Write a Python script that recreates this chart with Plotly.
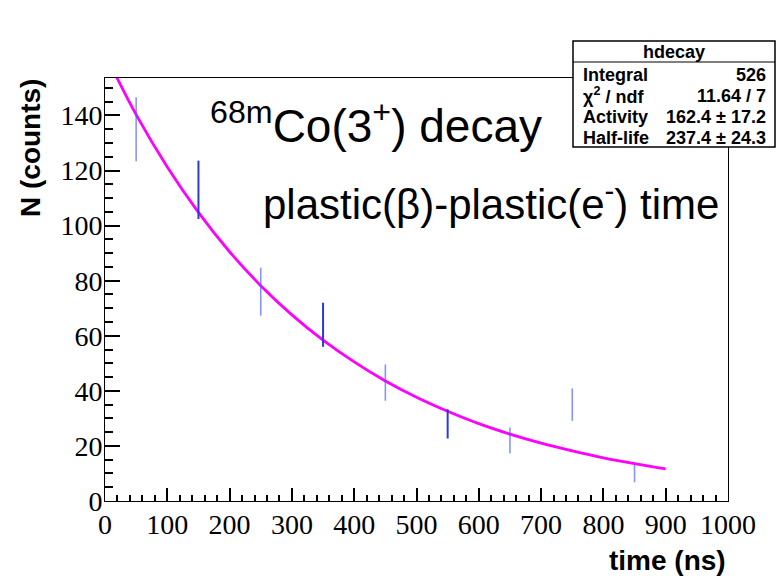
import plotly.graph_objects as go

# ---- data ----
bin_centers = [50, 150, 250, 350, 450, 550, 650, 750, 850]          # time (ns)
counts      = [135, 113, 76, 64, 43, 28, 22, 35, 10]                  # N (counts)
count_errs  = [11.6, 10.6, 8.7, 8.0, 6.6, 5.3, 4.7, 5.9, 3.2]         # sqrt(N)

fit_t = [0, 50, 100, 150, 200, 250, 300, 350, 400, 450, 500, 550, 600,
         650, 700, 750, 800, 850, 900]
fit_n = [162.4, 140.3, 121.3, 104.8, 90.5, 78.2, 67.6, 58.4, 50.5, 43.6,
         37.7, 32.6, 28.1, 24.3, 21.0, 18.2, 15.7, 13.6, 11.7]

stat_labels = ["Integral", "χ<sup>2</sup> / ndf", "Activity", "Half-life"]
stat_values = ["526", "11.64 / 7", "162.4 ± 17.2", "237.4 ± 24.3"]
hist_name = "hdecay"

x_ticks = list(range(0, 1001, 100))
y_ticks = list(range(0, 141, 20))

# split bars into two rendering groups (as they appear in the picture)
dark_idx = [1, 3, 5]
light_idx = [i for i in range(len(bin_centers)) if i not in dark_idx]

fig = go.Figure()

fig.add_trace(go.Scatter(
    x=fit_t, y=fit_n, mode="lines", line=dict(color="#ff00ff", width=2.8, shape="spline"),
    hoverinfo="skip", showlegend=False))

for idx, col, w in [(light_idx, "rgba(70,90,255,0.65)", 1.6), (dark_idx, "#2a3ae0", 2.0)]:
    fig.add_trace(go.Scatter(
        x=[bin_centers[i] for i in idx], y=[counts[i] for i in idx], mode="markers",
        marker=dict(size=1, opacity=0),
        error_y=dict(type="data", array=[count_errs[i] for i in idx], visible=True,
                     color=col, thickness=w, width=0),
        showlegend=False))

PL, PR, PT, PB = 105, 728, 78, 501
def px(xp): return (xp - PL) / (PR - PL)
def py(yp): return (PB - yp) / (PB - PT)

tickfont = dict(family="Liberation Serif", size=28, color="black")
fig.update_xaxes(range=[0, 1000], tickmode="array", tickvals=x_ticks,
                 ticks="inside", ticklen=13, tickwidth=1.5, tickcolor="black",
                 minor=dict(dtick=20, ticks="inside", ticklen=6, tickwidth=1.5, tickcolor="black"),
                 showline=True, linecolor="black", linewidth=1, mirror=True,
                 showgrid=False, zeroline=False, tickfont=tickfont, ticklabelstandoff=-2)
fig.update_yaxes(range=[0, 153.6], tickmode="array", tickvals=y_ticks,
                 ticks="inside", ticklen=15, tickwidth=1.5, tickcolor="black",
                 minor=dict(dtick=5, ticks="inside", ticklen=8, tickwidth=1.5, tickcolor="black"),
                 showline=True, linecolor="black", linewidth=1, mirror=True,
                 showgrid=False, zeroline=False, tickfont=tickfont, ticklabelstandoff=-4)

ann = []
ann.append(dict(text="N (counts)", x=px(30), y=py(77), xref="paper", yref="paper",
                xanchor="center", yanchor="top", textangle=-90, showarrow=False,
                font=dict(family="Liberation Sans", size=28, color="black", weight="bold")))
ann.append(dict(text="time (ns)", x=px(728), y=py(560), xref="paper", yref="paper",
                xanchor="right", yanchor="middle", showarrow=False,
                font=dict(family="Liberation Sans", size=28, color="black", weight="bold")))
ann.append(dict(text="<sup>68m</sup>Co(3<sup>+</sup>) decay", x=px(208), y=py(123),
                xref="paper", yref="paper", xanchor="left", yanchor="middle", showarrow=False,
                font=dict(family="Liberation Sans", size=46, color="black")))
ann.append(dict(text="plastic(β)-plastic(e<sup>-</sup>) time", x=px(261), y=py(201),
                xref="paper", yref="paper", xanchor="left", yanchor="middle", showarrow=False,
                font=dict(family="Liberation Sans", size=42, color="black")))

# stats box
bx0, bx1, by0, by1, bh = 573, 775, 147, 41, 62
shapes = [
    dict(type="rect", xref="paper", yref="paper", x0=px(bx0), x1=px(bx1), y0=py(by0), y1=py(by1),
         fillcolor="white", line=dict(color="black", width=1.5), layer="above"),
    dict(type="line", xref="paper", yref="paper", x0=px(bx0), x1=px(bx1), y0=py(bh), y1=py(bh),
         line=dict(color="black", width=1.2), layer="above"),
]
sfont = dict(family="Liberation Sans", size=18, color="black", weight="bold")
ann.append(dict(text=hist_name, x=px(674), y=py(52), xref="paper", yref="paper",
                xanchor="center", yanchor="middle", showarrow=False, font=sfont))
row_y = [75, 96, 117, 138]
for lab, val, yy in zip(stat_labels, stat_values, row_y):
    ann.append(dict(text=lab, x=px(581), y=py(yy), xref="paper", yref="paper",
                    xanchor="left", yanchor="middle", showarrow=False, font=sfont))
    ann.append(dict(text=val, x=px(768), y=py(yy), xref="paper", yref="paper",
                    xanchor="right", yanchor="middle", showarrow=False, font=sfont))

fig.update_layout(width=778, height=578, margin=dict(l=PL, r=778 - PR, t=PT, b=578 - PB),
                  paper_bgcolor="white", plot_bgcolor="white",
                  annotations=ann, shapes=shapes, showlegend=False)

fig.write_html("out.html")
